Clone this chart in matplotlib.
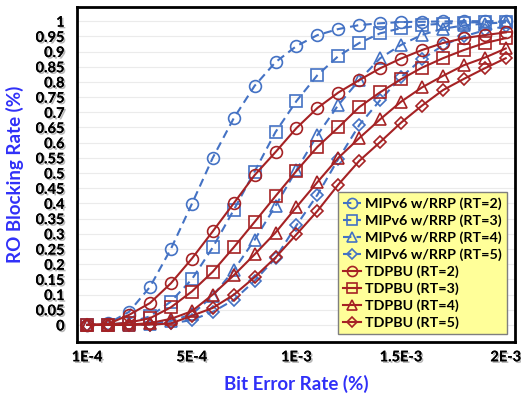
import matplotlib
matplotlib.use("Agg")
import matplotlib.pyplot as plt
import matplotlib.patheffects as pe

# bit error rate categories (21 points)
ber = [0.0, 0.0001, 0.0002, 0.0003, 0.0004, 0.0005, 0.0006, 0.0007, 0.0008, 0.0009, 0.0010,
       0.0011, 0.0012, 0.0013, 0.0014, 0.0015, 0.0016, 0.0017, 0.0018, 0.0019, 0.0020]

mip_rt2 = [0, 0.005, 0.043, 0.125, 0.25, 0.398, 0.55, 0.68, 0.787, 0.865, 0.918,
           0.954, 0.974, 0.987, 0.993, 0.997, 0.998, 0.999, 1.0, 1.0, 1.0]
mip_rt3 = [0, 0.001, 0.008, 0.028, 0.077, 0.15, 0.255, 0.378, 0.505, 0.635, 0.737,
           0.822, 0.885, 0.928, 0.96, 0.977, 0.987, 0.992, 0.995, 0.997, 0.998]
mip_rt4 = [0, 0, 0.001, 0.004, 0.013, 0.035, 0.095, 0.18, 0.28, 0.392, 0.51,
           0.625, 0.724, 0.806, 0.878, 0.922, 0.955, 0.975, 0.986, 0.992, 0.996]
mip_rt5 = [0, 0, 0, 0.001, 0.005, 0.016, 0.043, 0.082, 0.145, 0.22, 0.328,
           0.428, 0.546, 0.658, 0.74, 0.816, 0.875, 0.92, 0.95, 0.97, 0.983]
tdp_rt2 = [0, 0.003, 0.033, 0.072, 0.137, 0.218, 0.308, 0.40, 0.493, 0.569, 0.648,
           0.714, 0.765, 0.806, 0.845, 0.877, 0.905, 0.928, 0.944, 0.954, 0.963]
tdp_rt3 = [0, 0.001, 0.008, 0.022, 0.058, 0.11, 0.175, 0.255, 0.339, 0.424, 0.507,
           0.586, 0.65, 0.717, 0.766, 0.809, 0.847, 0.878, 0.905, 0.928, 0.944]
tdp_rt4 = [0, 0, 0.001, 0.006, 0.02, 0.045, 0.1, 0.163, 0.232, 0.304, 0.388,
           0.47, 0.55, 0.615, 0.677, 0.735, 0.782, 0.82, 0.855, 0.88, 0.91]
tdp_rt5 = [0, 0, 0, 0.001, 0.005, 0.03, 0.056, 0.099, 0.157, 0.222, 0.298,
           0.375, 0.462, 0.54, 0.602, 0.666, 0.722, 0.773, 0.81, 0.845, 0.878]

xtick_pos = [0.0, 0.0005, 0.001, 0.0015, 0.002]
xtick_labels = ["1E-4", "5E-4", "1E-3", "1.5E-3", "2E-3"]
ytick_pos = [i * 0.05 for i in range(21)]

blue = "#4472C4"
red = "#A52224"
label_col = "#3030F8"
shadow = [pe.withSimplePatchShadow(offset=(1.2, -1.2), shadow_rgbFace="#888888", alpha=0.6), pe.Normal()]

plt.rcParams["font.family"] = ["Lato", "DejaVu Sans"]

fig = plt.figure(figsize=(5.21, 3.99), dpi=100)
ax = fig.add_axes([0.148, 0.143, 0.840, 0.839])

series = [
    (mip_rt2, blue, "o", 8.5, "MIPv6 w/RRP (RT=2)"),
    (mip_rt3, blue, "s", 8.5, "MIPv6 w/RRP (RT=3)"),
    (mip_rt4, blue, "^", 9, "MIPv6 w/RRP (RT=4)"),
    (mip_rt5, blue, "D", 6.5, "MIPv6 w/RRP (RT=5)"),
    (tdp_rt2, red, "o", 8.5, "TDPBU (RT=2)"),
    (tdp_rt3, red, "s", 8.5, "TDPBU (RT=3)"),
    (tdp_rt4, red, "^", 9, "TDPBU (RT=4)"),
    (tdp_rt5, red, "D", 6.5, "TDPBU (RT=5)"),
]
for vals, col, mk, ms, lab in series:
    ls = (0, (4, 2.5)) if col == blue else "-"
    ax.plot(ber, vals, color=col, linestyle=ls, linewidth=1.5, marker=mk,
            markersize=ms, markerfacecolor="none", markeredgecolor=col,
            markeredgewidth=1.2, label=lab, zorder=3)

ax.set_xlim(-0.000048, 0.002043)
ax.set_ylim(-0.056, 1.046)
ax.set_yticks(ytick_pos)
ax.set_yticklabels(["%g" % round(v, 2) for v in ytick_pos])
ax.set_xticks(xtick_pos)
ax.set_xticklabels(xtick_labels)
ax.tick_params(axis="y", length=0, labelsize=10.5, pad=9)
ax.tick_params(axis="x", length=0, labelsize=10.5, pad=6)
for t in ax.get_xticklabels() + ax.get_yticklabels():
    t.set_fontweight("bold")
    t.set_path_effects(shadow)

ax.grid(axis="y", color="#EBEBEB", linewidth=0.8, zorder=0)
for sp in ax.spines.values():
    sp.set_linewidth(2)
    sp.set_color("black")

ax.set_ylabel("RO Blocking Rate (%)", color=label_col, fontsize=13.5, fontweight="bold", labelpad=8)
ax.set_xlabel("Bit Error Rate (%)", color=label_col, fontsize=13.5, fontweight="bold", labelpad=8)

leg = ax.legend(loc="lower right", bbox_to_anchor=(0.982, 0.024), borderaxespad=0,
                fancybox=False, framealpha=1, facecolor="#FFFF99", edgecolor="#7F7F7F",
                prop={"weight": "bold", "size": 10.3}, handlelength=1.25, handletextpad=0.3,
                labelspacing=0.3, borderpad=0.35, markerscale=0.85)
leg.get_frame().set_linewidth(1.0)

fig.savefig("out.png", dpi=100)
